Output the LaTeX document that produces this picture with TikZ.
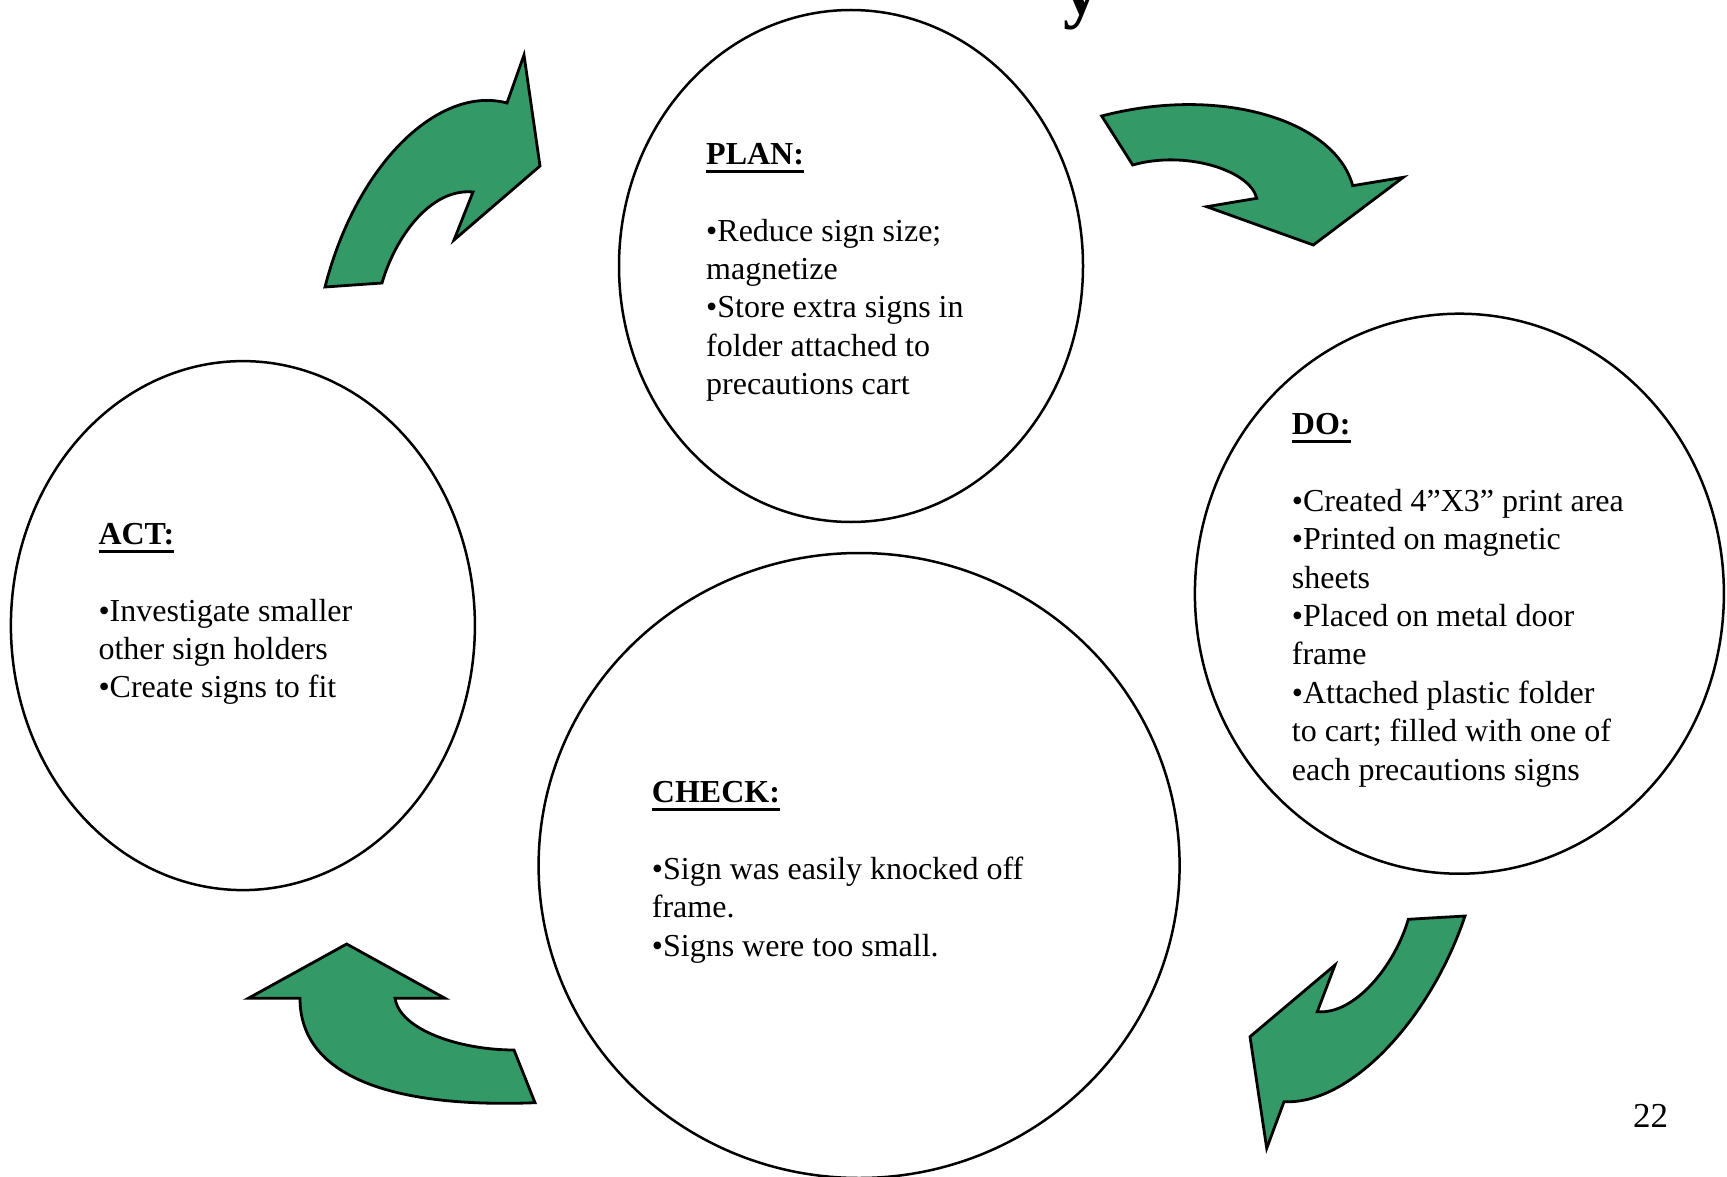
\documentclass[tikz,border=0pt]{standalone}
\usepackage{fontspec}
\setmainfont{Liberation Serif}
\usetikzlibrary{shapes.geometric}
\definecolor{arrowgreen}{RGB}{51,153,102}
\newcommand\mkhead[1]{\setbox0\hbox{\textbf{#1}}\rlap{\rule[-8.3pt]{\wd0}{3pt}}\box0}
\begin{document}
\begin{tikzpicture}[x=1pt,y=-1pt,
  phase/.style={draw=black, line width=2.5pt, ellipse, inner sep=0pt},
  cyclearrow/.style={draw=black, fill=arrowgreen, line width=2.8pt, line join=miter},
  phasetext/.style={anchor=north west, inner sep=0pt, align=left, font=\fontsize{32}{38.4}\selectfont}]
\useasboundingbox (0,0) rectangle (1727,1177);

% cut-off title fragment
\node[anchor=base west, inner sep=0pt, font=\fontsize{72}{80}\selectfont\bfseries] (titlefrag) at (1063,15) {y};

% phase ellipses
\node[phase, minimum width=464pt, minimum height=512pt] (plan) at (851,266) {};
\node[phase, minimum width=529pt, minimum height=560pt] (do) at (1459.4,593.7) {};
\node[phase, minimum width=464pt, minimum height=529pt] (act) at (242.9,625.6) {};
\node[phase, minimum width=641pt, minimum height=625pt] (check) at (859.1,865.5) {};

% texts
\node[phasetext] (plantext) at (706,137.2) {\strut\mkhead{PLAN:}\\[38.4pt]
•Reduce sign size;\\ magnetize\\ •Store extra signs in\\ folder attached to\\ precautions cart};
\node[phasetext] (dotext) at (1291.7,407.5) {\strut\mkhead{DO:}\\[38.4pt]
•Created 4”X3” print area\\ •Printed on magnetic\\ sheets\\ •Placed on metal door\\ frame\\ •Attached plastic folder\\ to cart; filled with one of\\ each precautions signs};
\node[phasetext] (acttext) at (98.3,517.2) {\strut\mkhead{ACT:}\\[38.4pt]
•Investigate smaller\\ other sign holders\\ •Create signs to fit};
\node[phasetext] (checktext) at (651.7,775.5) {\strut\mkhead{CHECK:}\\[38.4pt]
•Sign was easily knocked off\\ frame.\\ •Signs were too small.};

% cycle arrows
\draw[cyclearrow] (325,287) -- (382,283) .. controls (395,238) and (430,188) .. (473,192)
  -- (454,240) -- (540,166) -- (524,55) -- (507,103)
  .. controls (440,85) and (357,162) .. (325,287) -- cycle;
\draw[cyclearrow] (1101.7,116) -- (1132.7,165) .. controls (1185,150) and (1250,170) .. (1256.7,198.3)
  -- (1206.7,206.7) -- (1313.3,245) -- (1403.3,177.3) -- (1352.7,185.7)
  .. controls (1335,120) and (1220,85) .. (1101.7,116) -- cycle;
\draw[cyclearrow] (1465,916) -- (1408.3,919.3) .. controls (1395,965) and (1355,1015) .. (1317.3,1011.7)
  -- (1335,965) -- (1250,1036.7) -- (1266.7,1148.3) -- (1284,1101.7)
  .. controls (1350,1105) and (1430,1020) .. (1465,916) -- cycle;
\draw[cyclearrow] (535,1102.7) -- (514,1050) .. controls (460,1050) and (400,1030) .. (395,998.3)
  -- (445,998.3) -- (346.7,944) -- (248.3,998.3) -- (300,998.3)
  .. controls (300,1080) and (400,1108) .. (535,1102.7) -- cycle;

% page number
\node[anchor=base west, inner sep=0pt, font=\fontsize{35}{40}\selectfont] (pagenum) at (1633,1127.5) {22};
\end{tikzpicture}
\end{document}
